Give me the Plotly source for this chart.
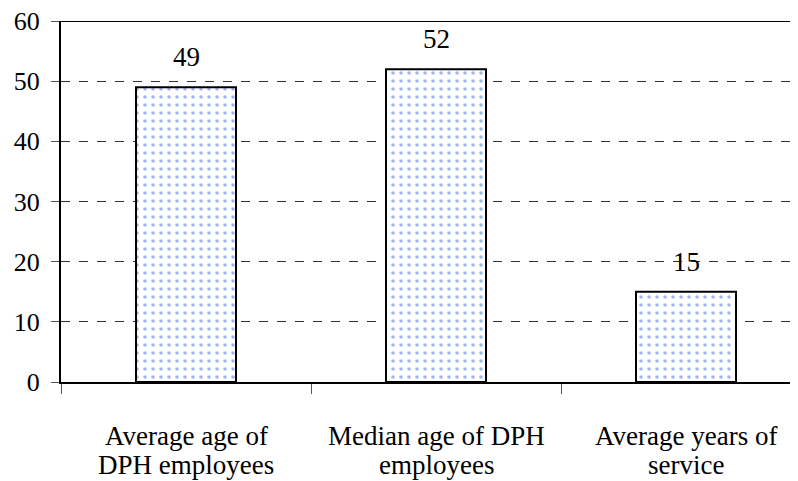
import plotly.graph_objects as go

label_lines = [["Average age of", "DPH employees"],
               ["Median age of DPH", "employees"],
               ["Average years of", "service"]]
categories = [" ".join(lines) for lines in label_lines]
values = [49, 52, 15]
y_ticks = [0, 10, 20, 30, 40, 50, 60]

FONT = "Liberation Serif"

fig = go.Figure()
fig.add_trace(go.Bar(
    x=categories,
    y=values,
    width=0.4,
    marker=dict(
        color="white",
        line=dict(color="black", width=2),
        pattern=dict(shape=".", fgcolor="#3f6ff0", bgcolor="white", size=8, solidity=0.16),
    ),
))

# value labels above the bars
for c, v in zip(categories, values):
    fig.add_annotation(x=c, y=v, text=str(v), showarrow=False, yanchor="bottom",
                       yshift=13, font=dict(family=FONT, size=27, color="black"))

# category labels, one annotation per line (tighter line spacing than plotly ticks)
for c, lines in zip(categories, label_lines):
    for i, line in enumerate(lines):
        fig.add_annotation(x=c, xref="x", y=0, yref="paper", text=line, showarrow=False,
                           yanchor="middle", yshift=-54 - 29 * i,
                           font=dict(family=FONT, size=27, color="black"))

# top border at 60
fig.add_shape(type="line", xref="paper", yref="y", x0=0, x1=1, y0=60, y1=60,
              line=dict(color="black", width=2))

fig.update_layout(
    width=798, height=481,
    margin=dict(l=53, r=0, t=13, b=107),
    plot_bgcolor="white", paper_bgcolor="white",
    showlegend=False,
    font=dict(family=FONT, size=27, color="black"),
)
fig.update_xaxes(
    range=[-0.5, 2.48],
    showline=True, linecolor="black", linewidth=2,
    ticks="outside", tickson="boundaries", ticklen=10, tickcolor="#555", tickwidth=1,
    showgrid=False,
    showticklabels=False,
)
fig.update_yaxes(
    range=[0, 60], tickvals=y_ticks,
    showline=True, linecolor="black", linewidth=2,
    ticks="outside", ticklen=8, tickcolor="#555", tickwidth=1,
    showgrid=True, gridcolor="#333", griddash="dash", gridwidth=1,
    zeroline=False,
    ticklabelstandoff=6,
    ticklabeloverflow="allow",
    tickfont=dict(family=FONT, size=26, color="black"),
)

fig.write_html("out.html")
